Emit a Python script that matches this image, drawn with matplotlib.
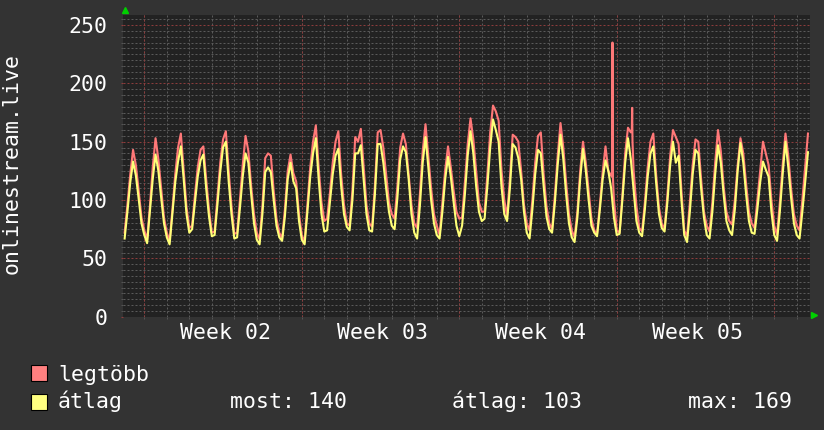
import numpy as np
import matplotlib
matplotlib.use("Agg")
import matplotlib.pyplot as plt
from matplotlib.patches import Rectangle
from matplotlib.ticker import MultipleLocator

# ── Data (one sample every 3 hours) ─────────────────────────────────────────
# first sample is day 0, 03:00; each row below is one day (00,03,...,21 h)

START_DAY = 3 / 24
STEP_DAYS = 3 / 24

avg_vals = [
         67,  90, 115, 133, 121, 101,  80,   # day 0 (from 03h)
     70,  63,  90, 118, 139, 125, 102,  80,
     68,  62,  88, 115, 133, 146, 118,  88,
     72,  75,  98, 120, 134, 139, 110,  86,
     69,  70,  96, 124, 145, 150, 116,  88,
     67,  68,  93, 120, 140, 132, 105,  80,
     66,  62,  88, 124, 128, 124, 100,  78,
     68,  65,  86, 118, 132, 116, 110,  82,
     66,  62,  90, 120, 140, 153, 118,  88,
     73,  74,  98, 122, 138, 144, 112,  88,
     77,  74, 100, 140, 140, 147, 118,  88,   # day 10
     74,  73, 105, 148, 148, 132, 110,  90,
     78,  75, 102, 135, 146, 141, 118,  88,
     72,  67,  95, 132, 154, 128, 100,  80,
     70,  67,  90, 118, 137, 120,  98,  78,
     69,  78, 105, 138, 159, 140, 112,  90,
     82,  84, 112, 145, 169, 160, 150, 112,
     88,  82, 110, 148, 145, 136, 118,  90,
     72,  67,  92, 122, 143, 140, 112,  86,
     75,  72,  98, 130, 156, 135, 105,  80,
     68,  64,  85, 118, 144, 125, 100,  78,   # day 20
     72,  69,  92, 118, 134, 125, 110,  85,
     70,  71, 100, 132, 153, 135, 108,  82,
     72,  69,  92, 120, 140, 146, 115,  88,
     76,  73,  98, 130, 150, 132, 138, 100,
     70,  64,  90, 122, 143, 140, 110,  85,
     70,  67,  90, 122, 147, 132, 105,  82,
     74,  70,  92, 125, 149, 132, 105,  82,
     72,  71,  92, 115, 133, 126, 120,  90,
     70,  65,  90, 122, 150, 128, 102,  80,
     70,  67,  90, 115, 141,                  # day 30 (to 12h)
]

max_vals = [
         72,  96, 122, 143, 130, 108,  85,
     74,  66,  95, 128, 153, 135, 110,  85,
     72,  65,  92, 122, 145, 157, 125,  94,
     76,  78, 104, 128, 143, 146, 118,  92,
     72,  73, 102, 132, 152, 159, 125,  95,
     71,  72, 100, 130, 155, 142, 112,  88,
     72,  66,  95, 136, 140, 138, 108,  84,
     72,  67,  92, 125, 139, 123, 116,  88,
     70,  64,  96, 128, 150, 164, 128,  98,
     82,  84, 106, 132, 150, 159, 122,  96,
     80,  78, 108, 154, 150, 161, 128,  96,
     80,  77, 112, 158, 160, 145, 122,  98,
     88,  84, 112, 145, 157, 148, 122,  96,
     80,  76, 105, 142, 165, 138, 110,  88,
     78,  70,  98, 126, 146, 128, 108,  90,
     84,  85, 115, 148, 170, 152, 125,  98,
     90,  90, 122, 158, 181, 176, 168, 126,
    100,  86, 118, 156, 154, 150, 125,  96,
     80,  74, 100, 132, 155, 158, 122,  95,
     80,  75, 104, 138, 166, 145, 115,  88,
     74,  68,  90, 125, 150, 132, 108,  84,
     74,  71,  96, 124, 146, 125, 121, 100,
     74,  72, 104, 140, 162, 158, 125,  95,
     76,  73,  98, 128, 150, 157, 122,  94,
     80,  75, 104, 138, 160, 154, 148, 108,
     74,  69,  98, 130, 152, 150, 118,  90,
     78,  73,  98, 132, 160, 142, 112,  90,
     82,  79, 100, 130, 153, 140, 114,  90,
     80,  76, 100, 125, 150, 140, 130, 100,
     78,  70,  98, 130, 157, 138, 110,  88,
     78,  74, 100, 128, 157,
]

# short spikes in the max series, between the 3h samples
spike_days = [21.79, 21.81, 21.83, 22.67, 22.685, 22.70]
spike_vals = [120,   235,   119,   160,   179,    150]

week_labels = ["Week 02", "Week 03", "Week 04", "Week 05"]
week_label_days = [4.6, 11.6, 18.6, 25.6]
week_start_days = [1, 8, 15, 22, 29]

legend_names = ["legtöbb", "átlag"]
summary = ["most: 140", "átlag: 103", "max: 169"]
y_title = "onlinestream.live"

# ── Styling ──────────────────────────────────────────────────────────────────

BG = "#333333"
CANVAS = "#222222"
MINOR_GRID = "#5a5a5a"
MAJOR_GRID = "#8c3c3c"
RED = "#ff7878"
YELLOW = "#ffff78"
ARROW = "#00d000"
FS = 15.5

plt.rcParams["font.family"] = "DejaVu Sans Mono"

W, H = 824, 430
fig = plt.figure(figsize=(W / 100, H / 100), dpi=100, facecolor=BG)
ax = fig.add_axes([123 / W, (H - 316.7) / H, 687 / W, 301.7 / H])
ax.set_facecolor(CANVAS)

avg_days = START_DAY + np.arange(len(avg_vals)) * STEP_DAYS
max_days = START_DAY + np.arange(len(max_vals)) * STEP_DAYS
all_days = np.concatenate([max_days, spike_days])
all_max = np.concatenate([max_vals, spike_vals])
order = np.argsort(all_days)

ax.plot(all_days[order], all_max[order], color=RED, lw=1.5, zorder=3)
ax.plot(avg_days, avg_vals, color=YELLOW, lw=1.5, zorder=4)

ax.set_xlim(0.053, 30.59)
ax.set_ylim(0, 258.6)

# grid: dotted minor lines, red dotted major lines
ax.xaxis.set_minor_locator(MultipleLocator(1))
ax.yaxis.set_major_locator(MultipleLocator(50))
ax.yaxis.set_minor_locator(MultipleLocator(5))
ax.set_xticks(week_label_days, week_labels)

dots = dict(lw=0.72, dashes=(2, 2))
ax.grid(which="minor", color=MINOR_GRID, **dots)
ax.grid(axis="y", which="major", color=MAJOR_GRID, **dots)
for d in week_start_days:
    ax.axvline(d, color=MAJOR_GRID, zorder=1, **dots)
ax.set_axisbelow(True)

for s in ax.spines.values():
    s.set_visible(False)

ax.tick_params(axis="x", which="major", length=0, pad=4.5,
               labelcolor="white", labelsize=FS)
ax.tick_params(axis="y", which="major", length=1.5, color=MAJOR_GRID,
               pad=9.8, labelcolor="white", labelsize=FS)
ax.tick_params(which="minor", length=1.5, color=MINOR_GRID)

# green axis arrows
ax.plot([0.003], [1.017], marker="^", ms=5, color=ARROW,
        transform=ax.transAxes, clip_on=False)
ax.plot([1.006], [0.006], marker=">", ms=5, color=ARROW,
        transform=ax.transAxes, clip_on=False)

fig.text(11.7 / W, 1 - 164 / H, y_title, rotation=90, color="white",
         fontsize=FS, ha="center", va="center")

# ── Legend ───────────────────────────────────────────────────────────────────

for i, (name, col) in enumerate(zip(legend_names, ["#ff8080", "#ffff80"])):
    top = 365 + i * 29
    fig.add_artist(Rectangle((31 / W, 1 - (top + 16) / H), 16 / W, 16 / H,
                             transform=fig.transFigure, facecolor=col,
                             edgecolor="black", lw=0.8))
    fig.text(58 / W, 1 - (381 + i * 27.3) / H, name, color="white",
             fontsize=FS, va="baseline")

for txt, x in zip(summary, [230, 451.7, 688]):
    fig.text(x / W, 1 - 408.3 / H, txt, color="white", fontsize=FS,
             va="baseline")

fig.savefig("out.png", dpi=100, facecolor=BG)
